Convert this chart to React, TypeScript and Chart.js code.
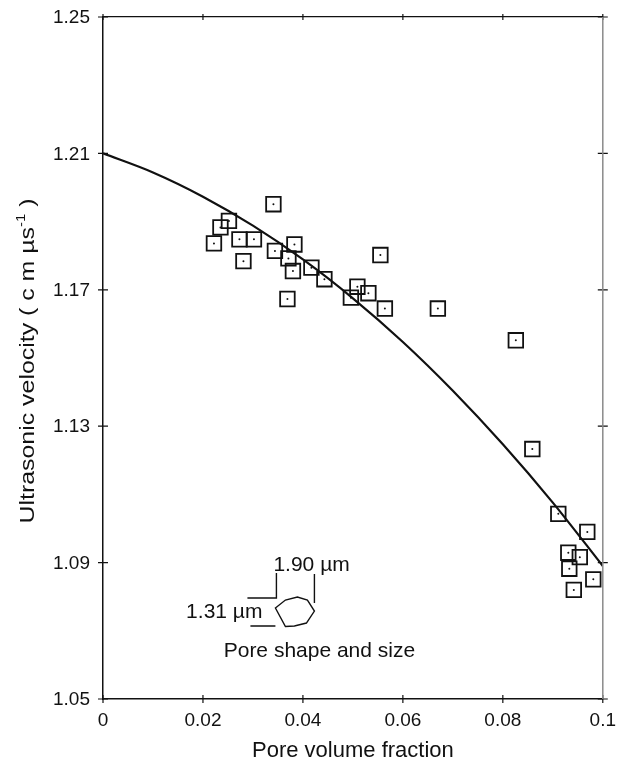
import { useEffect, useRef } from 'react';
import { Chart, registerables } from 'chart.js';
Chart.register(...registerables);

const poreFraction = [
  0.0222, 0.0235, 0.0252, 0.0273, 0.0302, 0.0281, 0.0341, 0.0344, 0.0371, 0.0383,
  0.038, 0.0369, 0.0417, 0.0443, 0.0496, 0.0509, 0.0531, 0.0555, 0.0564, 0.067,
  0.0826, 0.0859, 0.0911, 0.0969, 0.0931, 0.0954, 0.0933, 0.0981, 0.0942,
];
const velocity = [
  1.1836, 1.1883, 1.1902, 1.1848, 1.1848, 1.1784, 1.1951, 1.1814, 1.1792, 1.1833,
  1.1755, 1.1673, 1.1765, 1.1731, 1.1677, 1.1709, 1.169, 1.1802, 1.1645, 1.1645,
  1.1552, 1.1233, 1.1043, 1.099, 1.0929, 1.0916, 1.0882, 1.0851, 1.082,
];
const fitFraction = [0, 0.01, 0.02, 0.03, 0.04, 0.05, 0.06, 0.07, 0.08, 0.09, 0.1];
const fitVelocity = [1.21, 1.2044, 1.1973, 1.1888, 1.1789, 1.1675, 1.1547, 1.1404, 1.1247, 1.1076, 1.089];

const xTickValues = [0, 0.02, 0.04, 0.06, 0.08, 0.1];
const xTickLabels = ['0', '0.02', '0.04', '0.06', '0.08', '0.1'];
const yTickValues = [1.05, 1.09, 1.13, 1.17, 1.21, 1.25];
const yTickLabels = ['1.05', '1.09', '1.13', '1.17', '1.21', '1.25'];

const xTitle = 'Pore volume fraction';
const yTitleMain = 'Ultrasonic velocity ( c m \u00b5s';
const yTitleSup = '-1';
const yTitleEnd = ' )';
const poreLabelLong = '1.90 \u00b5m';
const poreLabelShort = '1.31 \u00b5m';
const poreCaption = 'Pore shape and size';
const poreAnchor = { x: 0.0385, y: 1.0758 };

const FONT = '"Liberation Sans", Arial, Helvetica, sans-serif';

const crossTicks = {
  id: 'crossTicks',
  afterDraw(chart: any) {
    const ctx = chart.ctx;
    const a = chart.chartArea;
    ctx.save();
    ctx.strokeStyle = '#111';
    ctx.lineWidth = 1.2;
    const xs = chart.scales;
    xTickValues.forEach((v) => {
      const px = xs.x.getPixelForValue(v);
      ctx.beginPath();
      ctx.moveTo(px, a.bottom - 4); ctx.lineTo(px, a.bottom + 4);
      ctx.moveTo(px, a.top - 3); ctx.lineTo(px, a.top + 3);
      ctx.stroke();
    });
    ctx.fillStyle = '#111';
    ctx.font = `19px ${FONT}`;
    ctx.textAlign = 'right';
    ctx.textBaseline = 'middle';
    yTickValues.forEach((v, i) => {
      const py = xs.y.getPixelForValue(v);
      ctx.beginPath();
      ctx.moveTo(a.left - 5, py); ctx.lineTo(a.left + 5, py);
      ctx.moveTo(a.right - 5, py); ctx.lineTo(a.right + 5, py);
      ctx.stroke();
      ctx.fillText(yTickLabels[i], a.left - 13, py + 1);
    });
    // right border (greyish)
    ctx.strokeStyle = '#8a8a8a';
    ctx.lineWidth = 1.5;
    ctx.beginPath();
    ctx.moveTo(a.right, a.top); ctx.lineTo(a.right, a.bottom);
    ctx.stroke();

    // y title (rotated, with superscript)
    const fs = 21;
    ctx.font = `${fs}px ${FONT}`;
    const w1 = ctx.measureText(yTitleMain).width;
    ctx.font = `${fs * 0.6}px ${FONT}`;
    const w2 = ctx.measureText(yTitleSup).width;
    ctx.font = `${fs}px ${FONT}`;
    const w3 = ctx.measureText(yTitleEnd).width;
    const total = w1 + w2 + w3;
    const targetLen = 325;
    const sx = targetLen / total;
    ctx.save();
    ctx.translate(a.left - 69, a.top + 344);
    ctx.rotate(-Math.PI / 2);
    ctx.scale(sx, 1);
    ctx.textBaseline = 'alphabetic';
    ctx.textAlign = 'left';
    const start = -total / 2;
    ctx.fillText(yTitleMain, start, 0);
    ctx.font = `${fs * 0.6}px ${FONT}`;
    ctx.fillText(yTitleSup, start + w1, -fs * 0.45);
    ctx.font = `${fs}px ${FONT}`;
    ctx.fillText(yTitleEnd, start + w1 + w2, 0);
    ctx.restore();

    // pore inset
    const cx = xs.x.getPixelForValue(poreAnchor.x);
    const cy = xs.y.getPixelForValue(poreAnchor.y);
    ctx.strokeStyle = '#111';
    ctx.lineWidth = 1.4;
    ctx.beginPath();
    const blob = [
      [-20, -3], [-10, -11], [2, -14], [12, -11], [19, 0], [11, 12], [-1, 15], [-10, 15.5],
    ];
    blob.forEach(([dx, dy], i) => {
      if (i === 0) ctx.moveTo(cx + dx, cy + dy); else ctx.lineTo(cx + dx, cy + dy);
    });
    ctx.closePath();
    ctx.stroke();
    ctx.beginPath();
    ctx.moveTo(cx - 48, cy - 13); ctx.lineTo(cx - 19, cy - 13); ctx.lineTo(cx - 19, cy - 38);
    ctx.moveTo(cx + 19, cy - 37); ctx.lineTo(cx + 19, cy - 8);
    ctx.moveTo(cx - 45, cy + 15); ctx.lineTo(cx - 20, cy + 15);
    ctx.stroke();
    ctx.font = `21px ${FONT}`;
    ctx.textBaseline = 'alphabetic';
    ctx.textAlign = 'left';
    ctx.fillText(poreLabelLong, cx - 22, cy - 40);
    ctx.textAlign = 'right';
    ctx.fillText(poreLabelShort, cx - 33, cy + 7);
    ctx.textAlign = 'center';
    ctx.fillText(poreCaption, cx + 24, cy + 46);
    ctx.restore();
  },
};

export default function App() {
  const ref = useRef<HTMLCanvasElement>(null);
  useEffect(() => {
    document.body.style.margin = '0';
    const canvas = ref.current!;
    const tickFont = { family: FONT, size: 19 };
    const chart = new Chart(canvas, {
      type: 'scatter',
      data: {
        datasets: [
          {
            type: 'line',
            data: fitFraction.map((x, i) => ({ x, y: fitVelocity[i] })),
            borderColor: '#111',
            borderWidth: 2.2,
            pointRadius: 0,
            cubicInterpolationMode: 'monotone',
            fill: false,
          } as any,
          {
            data: poreFraction.map((x, i) => ({ x, y: velocity[i] })),
            pointStyle: 'rect',
            pointRadius: 10.3,
            pointBorderWidth: 1.8,
            pointBorderColor: '#111',
            pointBackgroundColor: 'rgba(255,255,255,0)',
          },
          {
            data: poreFraction.map((x, i) => ({ x, y: velocity[i] })),
            pointStyle: 'circle',
            pointRadius: 1,
            pointBorderWidth: 0,
            pointBackgroundColor: '#111',
          },
        ],
      },
      options: {
        animation: false,
        responsive: false,
        layout: { padding: 0 },
        plugins: { legend: { display: false }, tooltip: { enabled: false } },
        scales: {
          x: {
            type: 'linear',
            position: 'bottom',
            min: 0,
            max: 0.1,
            afterBuildTicks: (s: any) => { s.ticks = xTickValues.map((value) => ({ value })); },
            afterFit: (s: any) => { s.height = 65; },
            ticks: {
              font: tickFont,
              color: '#111',
              padding: 10,
              maxRotation: 0,
              callback: (_v: any, i: number) => xTickLabels[i],
            },
            grid: { display: false, drawTicks: false },
            border: { display: true, color: '#111', width: 1.5 },
            title: { display: true, text: xTitle, font: { family: FONT, size: 22 }, color: '#111', padding: { top: 1, bottom: 0 } },
          },
          x2: {
            type: 'linear',
            position: 'top',
            min: 0,
            max: 0.1,
            afterFit: (s: any) => { s.height = 17; },
            ticks: { display: false },
            grid: { display: false, drawTicks: false },
            border: { display: true, color: '#111', width: 1.3 },
          },
          y: {
            type: 'linear',
            position: 'left',
            min: 1.05,
            max: 1.25,
            afterBuildTicks: (s: any) => { s.ticks = yTickValues.map((value) => ({ value })); },
            afterFit: (s: any) => { s.width = 103; },
            ticks: { display: false },
            grid: { display: false, drawTicks: false },
            border: { display: true, color: '#111', width: 1.5 },
          },
          y2: {
            type: 'linear',
            position: 'right',
            min: 1.05,
            max: 1.25,
            afterFit: (s: any) => { s.width = 23; },
            ticks: { display: false },
            grid: { display: false, drawTicks: false },
            border: { display: false },
          },
        },
      } as any,
      plugins: [crossTicks],
    });
    return () => chart.destroy();
  }, []);
  return (
    <div style={{ width: 626, height: 764, background: '#fff' }}>
      <canvas ref={ref} width={626} height={764} style={{ display: 'block' }} />
    </div>
  );
}
